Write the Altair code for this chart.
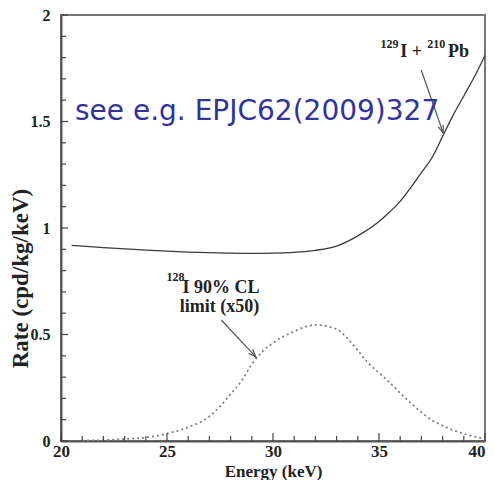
import altair as alt
import pandas as pd
import numpy as np

# ---- data ----
energy_bg = [20.5, 21, 22, 23, 24, 25, 26, 27, 28, 29, 30, 31, 32, 33, 34, 35, 35.5, 36, 36.5, 37, 37.5, 38, 38.5, 39, 39.5, 40]
rate_bg = [0.918, 0.915, 0.908, 0.902, 0.896, 0.891, 0.887, 0.884, 0.882, 0.881, 0.882, 0.886, 0.895, 0.915, 0.963, 1.03, 1.075, 1.125, 1.19, 1.26, 1.33, 1.43, 1.53, 1.62, 1.71, 1.81]

energy_lim = [21, 22, 23, 24, 25, 26, 27, 28, 28.5, 29, 29.5, 30, 31, 32, 33, 33.5, 34, 34.5, 35, 35.5, 36, 36.5, 37, 37.5, 38, 39, 40]
rate_lim = [0.002, 0.004, 0.009, 0.016, 0.035, 0.065, 0.115, 0.22, 0.28, 0.36, 0.42, 0.46, 0.515, 0.545, 0.525, 0.483, 0.425, 0.365, 0.32, 0.275, 0.225, 0.178, 0.135, 0.098, 0.072, 0.034, 0.01]

x_major = [20, 25, 30, 35, 40]
x_minor = [v for v in range(20, 41) if v % 5 != 0]
y_major = [0, 0.5, 1, 1.5, 2]
y_minor = [round(0.1 * i, 1) for i in range(21) if i % 5 != 0]

# annotations (data coordinates)
ann_text = ["129", "I +", "210", "Pb", "128", "I  90% CL", "limit (x50)"]
ann_x = [35.07, 36.0, 37.28, 38.26, 24.98, 25.73, 25.6]
ann_y = [1.845, 1.803, 1.845, 1.803, 0.751, 0.695, 0.606]
ann_size = [12, 18, 12, 18, 12, 18, 18]

arrow_x1 = [36.99, 27.56]
arrow_y1 = [1.742, 0.568]
arrow_x2 = [38.03, 29.2]
arrow_y2 = [1.446, 0.394]

note_text = ["see e.g. EPJC62(2009)327"]
note_x = [20.66]
note_y = [1.509]

W, H = 424, 426
XD, YD = [20, 40], [0, 2]
SERIF = "Liberation Serif"
PX_X = (XD[1] - XD[0]) / W   # data units per pixel
PX_Y = (YD[1] - YD[0]) / H

xs = alt.Scale(domain=XD, nice=False, zero=False)
ys = alt.Scale(domain=YD, nice=False, zero=False)

X_AX = alt.Axis(
    values=x_major, title="Energy (keV)", grid=False, tickSize=0, labelFlush=False,
    labelAlign={"condition": {"test": "datum.value == 40", "value": "right"}, "value": "center"},
    labelFont=SERIF, labelFontWeight="bold", labelFontSize=17, labelColor="#222",
    labelPadding=2, domainColor="#555", domainWidth=2,
    titleFont=SERIF, titleFontWeight="bold", titleFontSize=17, titleColor="#222",
    titleY=35, titleBaseline="alphabetic")
Y_AX = alt.Axis(
    values=y_major, title="Rate (cpd/kg/keV)", grid=False, tickSize=0, labelFlush=False,
    labelExpr="'' + datum.value",
    labelFont=SERIF, labelFontWeight="bold", labelFontSize=16, labelColor="#222",
    labelPadding=11, domainColor="#555", domainWidth=2,
    titleFont=SERIF, titleFontWeight="bold", titleFontSize=23, titleColor="#222",
    titleAngle=270, titleX=-41, titleY=263, titleAlign="center", titleBaseline="middle")


def X(field):
    return alt.X(field, scale=xs, axis=X_AX, title="Energy (keV)")


def Y(field):
    return alt.Y(field, scale=ys, axis=Y_AX, title="Rate (cpd/kg/keV)")


bg = pd.DataFrame({"x": energy_bg, "y": rate_bg})
lim = pd.DataFrame({"x": energy_lim, "y": rate_lim})

base_line = alt.Chart(bg).mark_line(color="#3a3a3a", strokeWidth=1.3, interpolate="monotone").encode(
    x=X("x:Q"), y=Y("y:Q"))

lim_line = alt.Chart(lim).mark_line(color="#808080", strokeWidth=1.8, strokeDash=[2, 3],
                                    interpolate="monotone").encode(x=X("x:Q"), y=Y("y:Q"))


def xticks(vals, length):
    df = pd.DataFrame({"x": vals, "y": YD[0], "y2": YD[0] + length * PX_Y})
    return alt.Chart(df).mark_rule(color="#444", strokeWidth=1.2).encode(
        x=X("x:Q"), y=Y("y:Q"), y2="y2:Q")


def yticks(vals, length):
    df = pd.DataFrame({"y": vals, "x": XD[0], "x2": XD[0] + length * PX_X})
    return alt.Chart(df).mark_rule(color="#444", strokeWidth=1.2).encode(
        y=Y("y:Q"), x=X("x:Q"), x2="x2:Q")


ann = pd.DataFrame({"x": ann_x, "y": ann_y, "t": ann_text, "fs": ann_size})
ann_layer = alt.Chart(ann).mark_text(font=SERIF, fontWeight="bold", color="#222",
                                      align="left", baseline="alphabetic").encode(
    x=X("x:Q"), y=Y("y:Q"),
    text="t:N", size=alt.Size("fs:Q", scale=None, legend=None))

note = pd.DataFrame({"x": note_x, "y": note_y, "t": note_text})
note_layer = alt.Chart(note).mark_text(font="DejaVu Sans", fontSize=28, color="#333399",
                                        align="left", baseline="alphabetic").encode(
    x=X("x:Q"), y=Y("y:Q"), text="t:N")

# arrows
dxp = (np.array(arrow_x2) - np.array(arrow_x1)) / PX_X
dyp = -(np.array(arrow_y2) - np.array(arrow_y1)) / PX_Y
ang = (np.degrees(np.arctan2(dxp, -dyp)) + 360) % 360
arr = pd.DataFrame({"x": arrow_x1, "y": arrow_y1, "x2": arrow_x2, "y2": arrow_y2, "a": ang})
arrow_lines = alt.Chart(arr).mark_rule(color="#555", strokeWidth=1.2).encode(
    x=X("x:Q"), y=Y("y:Q"), x2="x2:Q", y2="y2:Q")
arrow_heads = alt.Chart(arr).mark_point(
    shape="M-0.45,1.3L0,0L0.45,1.3", filled=False, size=144, color="#555", strokeWidth=1.2,
    opacity=1).encode(
    x=X("x2:Q"), y=Y("y2:Q"),
    angle=alt.Angle("a:Q", scale=None))

chart = alt.layer(
    base_line, lim_line,
    arrow_lines, arrow_heads, ann_layer, note_layer,
    xticks(x_major, 8), xticks(x_minor, 5), yticks(y_major, 7), yticks(y_minor, 5),
).properties(
    width=W, height=H,
    autosize=alt.AutoSizeParams(type="none"),
    padding={"left": 53, "top": 7, "right": 1, "bottom": 39},
    background="white",
).configure_view(stroke="#777", strokeWidth=2)

chart.save("out.html", embed_options={"renderer": "svg", "actions": False})
